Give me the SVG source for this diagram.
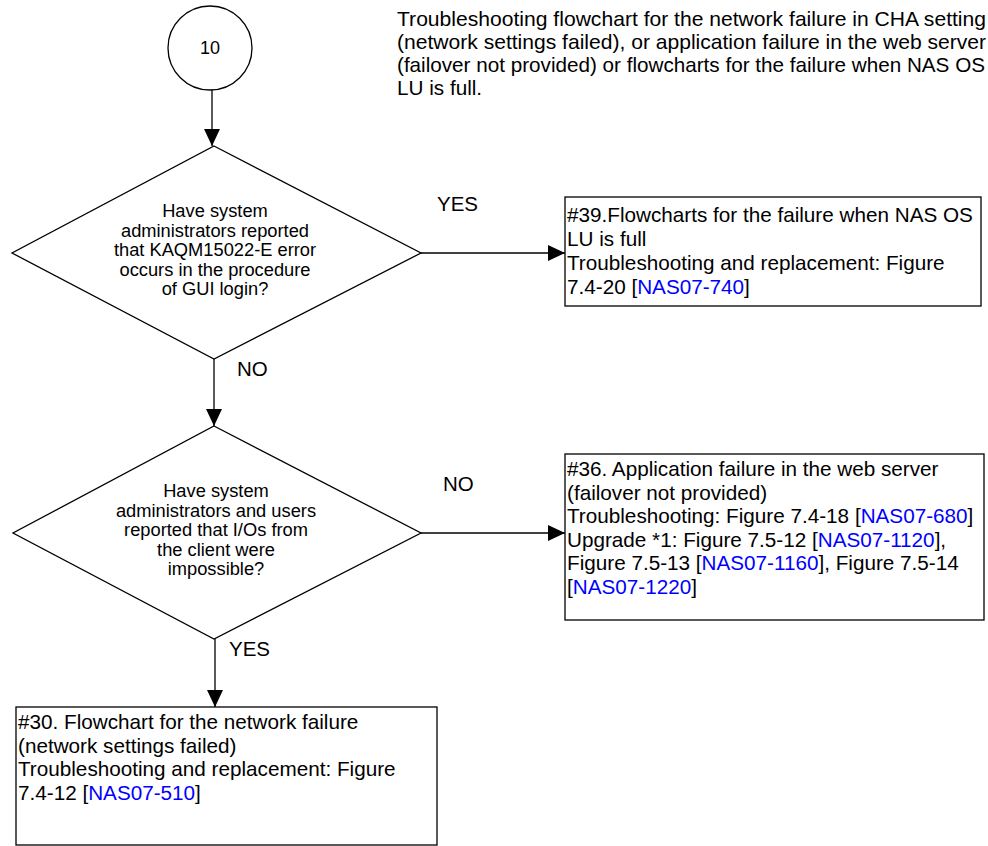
<svg xmlns="http://www.w3.org/2000/svg" width="988" height="846" viewBox="0 0 988 846">
<defs>
<marker id="arr" markerUnits="userSpaceOnUse" markerWidth="18" markerHeight="16" refX="17" refY="8" orient="auto">
<path d="M0,0 L17,8 L0,16 Z" fill="#000"/>
</marker>
<style>
.shape{fill:#fff;stroke:#000;stroke-width:1.3}
.conn{fill:none;stroke:#000;stroke-width:1.3;marker-end:url(#arr)}
text{font-family:"Liberation Sans",Arial,sans-serif;fill:#000}
.t{font-size:20.7px}
.d{font-size:18.3px;text-anchor:middle}
.title{font-size:20.7px}
.lbl{font-size:20.5px}
.lnk{fill:#0000ff}
</style>
</defs>
<rect width="988" height="846" fill="#fff"/>
<g id="title">
<text class="title" x="397" y="26" textLength="589" lengthAdjust="spacingAndGlyphs">Troubleshooting flowchart for the network failure in CHA setting</text>
<text class="title" x="397" y="49" textLength="589" lengthAdjust="spacingAndGlyphs">(network settings failed), or application failure in the web server</text>
<text class="title" x="397" y="72" textLength="588" lengthAdjust="spacingAndGlyphs">(failover not provided) or flowcharts for the failure when NAS OS</text>
<text class="title" x="397" y="95">LU is full.</text>
</g>
<g id="connectors">
<line class="conn" x1="212" y1="89" x2="212" y2="146"/>
<line class="conn" x1="214" y1="359" x2="214" y2="426"/>
<line class="conn" x1="421" y1="253" x2="565" y2="253"/>
<line class="conn" x1="421" y1="533" x2="565" y2="533"/>
<line class="conn" x1="215" y1="639" x2="215" y2="707"/>
<text class="lbl" x="437" y="211">YES</text>
<text class="lbl" x="237" y="376">NO</text>
<text class="lbl" x="443" y="491">NO</text>
<text class="lbl" x="229" y="656">YES</text>
</g>
<g id="n10">
<circle class="shape" cx="210" cy="48" r="42"/>
<text x="210" y="54" font-size="18" text-anchor="middle">10</text>
</g>
<g id="q1">
<polygon class="shape" points="214,146 421,253 214,359 12,253"/>
<text class="d" x="215" y="217">Have system</text>
<text class="d" x="215" y="236.5">administrators reported</text>
<text class="d" x="215" y="256">that KAQM15022-E error</text>
<text class="d" x="215" y="275.5">occurs in the procedure</text>
<text class="d" x="215" y="295">of GUI login?</text>
</g>
<g id="q2">
<polygon class="shape" points="214,426 421,533 214,639 13,533"/>
<text class="d" x="216" y="497">Have system</text>
<text class="d" x="216" y="516.5">administrators and users</text>
<text class="d" x="216" y="536">reported that I/Os from</text>
<text class="d" x="216" y="555.5">the client were</text>
<text class="d" x="216" y="575">impossible?</text>
</g>
<g id="b39">
<rect class="shape" x="565" y="197" width="416" height="109"/>
<text class="t" x="567" y="222">#39.Flowcharts for the failure when NAS OS</text>
<text class="t" x="567" y="246">LU is full</text>
<text class="t" x="567" y="270">Troubleshooting and replacement: Figure</text>
<text class="t" x="567" y="294">7.4-20 [<tspan class="lnk">NAS07-740</tspan>]</text>
</g>
<g id="b36">
<rect class="shape" x="565" y="454" width="419" height="166"/>
<text class="t" x="567" y="476">#36. Application failure in the web server</text>
<text class="t" x="567" y="499.5">(failover not provided)</text>
<text class="t" x="567" y="523">Troubleshooting: Figure 7.4-18 [<tspan class="lnk">NAS07-680</tspan>]</text>
<text class="t" x="567" y="546.5">Upgrade *1: Figure 7.5-12 [<tspan class="lnk">NAS07-1120</tspan>],</text>
<text class="t" x="567" y="570">Figure 7.5-13 [<tspan class="lnk">NAS07-1160</tspan>], Figure 7.5-14</text>
<text class="t" x="567" y="593.5">[<tspan class="lnk">NAS07-1220</tspan>]</text>
</g>
<g id="b30">
<rect class="shape" x="16" y="707" width="421" height="138"/>
<text class="t" x="18" y="729">#30. Flowchart for the network failure</text>
<text class="t" x="18" y="752.5">(network settings failed)</text>
<text class="t" x="18" y="776">Troubleshooting and replacement: Figure</text>
<text class="t" x="18" y="799.5">7.4-12 [<tspan class="lnk">NAS07-510</tspan>]</text>
</g>
</svg>
